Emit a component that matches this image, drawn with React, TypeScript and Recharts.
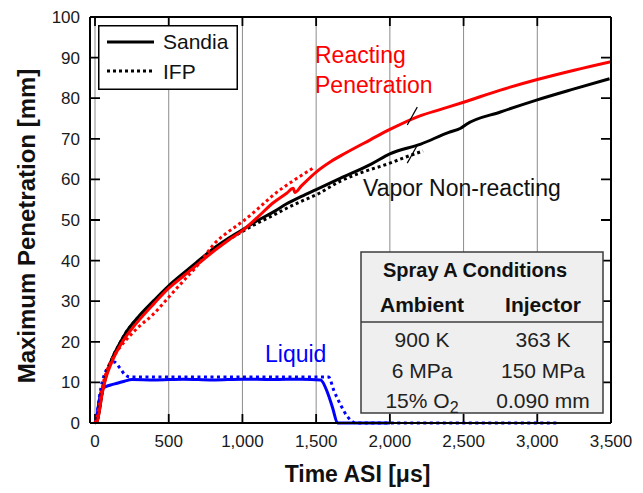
import React from 'react';
import {
  LineChart,
  Line,
  XAxis,
  YAxis,
  CartesianGrid,
  Legend,
  ReferenceLine
} from 'recharts';

// time after start of injection [us], maximum penetration [mm]
const sandiaReacting: [number, number][] = [
  [0, 0], [15, 0.5], [30, 3], [45, 6.5], [60, 9.2], [80, 11.8], [100, 13.8], [130, 16.3],
  [160, 18.4], [200, 20.8], [250, 23.2], [300, 25.4], [400, 29.4], [500, 33.2], [600, 36.2],
  [700, 39.2], [815, 42.6], [900, 44.9], [1000, 47.4], [1100, 50.6], [1211, 54.3], [1300, 56.6],
  [1345, 57.8], [1355, 56.8], [1400, 58.4], [1500, 61.8], [1600, 64.4], [1700, 66.5], [1870, 69.8],
  [2000, 72.3], [2200, 75.6], [2350, 77.3], [2500, 79], [2750, 82], [3000, 84.6], [3250, 86.9],
  [3500, 89]
];
const sandiaVapor: [number, number][] = [
  [0, 0], [15, 0.5], [30, 3.2], [45, 6.8], [60, 9.5], [80, 12.3], [100, 14.4], [130, 17],
  [160, 19.1], [205, 22], [300, 26.4], [400, 30.2], [500, 33.8], [600, 36.9], [700, 39.9],
  [815, 43.3], [900, 45.4], [1000, 47.6], [1100, 49.8], [1211, 52], [1300, 54], [1400, 55.8],
  [1500, 57.5], [1666, 60.3], [1870, 63.7], [2000, 66.3], [2210, 68.7], [2400, 71.6], [2480, 72.6],
  [2520, 73.6], [2750, 76.6], [3000, 79.6], [3250, 82.3], [3490, 84.8]
];
const ifpReacting: [number, number][] = [
  [0, 0], [15, 1.5], [30, 4.5], [45, 8], [60, 10.5], [80, 12.8], [100, 14.6], [130, 16.6],
  [160, 18.2], [200, 20], [250, 22], [300, 23.8], [390, 26.6], [500, 31], [600, 35], [700, 39],
  [815, 44.4], [900, 47], [1000, 49.6], [1100, 52.6], [1211, 56.2], [1350, 59.8], [1480, 62.8]
];
const ifpVapor: [number, number][] = [
  [0, 0], [15, 0.5], [30, 3.2], [45, 6.8], [60, 9.5], [80, 12.3], [100, 14.4], [130, 17],
  [160, 19.1], [205, 22], [300, 26.3], [400, 30], [500, 33.5], [600, 36.6], [700, 39.5],
  [815, 43], [900, 45], [1000, 47.2], [1100, 49.2], [1211, 51.2], [1300, 52.9], [1400, 54.6],
  [1500, 56.2], [1666, 59.6], [1800, 61.6], [2000, 64], [2100, 65.4], [2225, 67]
];
const sandiaLiquid: [number, number][] = [
  [0, 0], [10, 0.5], [20, 3.5], [35, 6.8], [55, 8.6], [100, 9.3], [150, 9.8], [200, 10.3],
  [250, 10.7], [400, 10.6], [600, 10.8], [800, 10.6], [1000, 10.8], [1200, 10.7], [1400, 10.8],
  [1530, 10.6], [1578, 7.4], [1612, 3.7], [1645, 0], [2000, 0]
];
const ifpLiquid: [number, number][] = [
  [0, 0], [15, 2.5], [30, 6.5], [48, 10], [70, 12.5], [90, 14], [130, 15], [170, 13.5],
  [205, 11.8], [240, 11.3], [500, 11.3], [800, 11.3], [1200, 11.3], [1585, 11.3], [1620, 8],
  [1667, 4.4], [1714, 1.5], [1770, 0], [3150, 0]
];

const timeTicks = [0, 500, 1000, 1500, 2000, 2500, 3000, 3500];
const penetrationTicks = [0, 10, 20, 30, 40, 50, 60, 70, 80, 90, 100];
const timeDomain = [-34, 3500];
const penetrationDomain = [0, 100];

// leader lines for the labels, in data units
const reactingLeader: [number, number][] = [[2186, 77.8], [2118, 73.4]];
const vaporLeader: [number, number][] = [[2118, 64], [2186, 68.4]];

const legendItems = [
  { name: 'Sandia', dash: undefined },
  { name: 'IFP', dash: '3 3' }
];

const tableTitle = 'Spray A Conditions';
const tableColumns = ['Ambient', 'Injector'];
const ambientRows: [string, string][] = [['900 K', ''], ['6 MPa', ''], ['15% O', '2']];
const injectorRows: [string, string][] = [['363 K', ''], ['150 MPa', ''], ['0.090 mm', '']];

const FONT = '"Liberation Sans", Arial, sans-serif';
const AXIS = { stroke: '#000', strokeWidth: 2 };
const TICK_TEXT = { fontSize: 17, fill: '#1a1a1a', fontFamily: FONT };

const toPoints = (rows: [number, number][]) => rows.map(([t, v]) => ({ t, v }));
const fmt = (v: number) => v.toLocaleString('en-US');
const seg = (rows: [number, number][]) => rows.map(([x, y]) => ({ x, y }));

// short inward tick marks at both ends of a full-span reference line
const EdgeTicks = (props: any) => {
  const x1 = Number(props.x1);
  const x2 = Number(props.x2);
  const y1 = Number(props.y1);
  const y2 = Number(props.y2);
  if (Math.abs(y1 - y2) < 0.5) {
    const l = Math.min(x1, x2);
    const r = Math.max(x1, x2);
    return <path d={`M${l},${y1}h10M${r - 10},${y1}h10`} stroke='#000' strokeWidth={1.8} fill='none' />;
  }
  const t = Math.min(y1, y2);
  const b = Math.max(y1, y2);
  return <path d={`M${x1},${t}v9M${x1},${b - 9}v9`} stroke='#000' strokeWidth={1.8} fill='none' />;
};

const LegendBox = () => (
  <svg width={140} height={65} style={{ display: 'block' }}>
    <rect x={0.75} y={0.75} width={138.5} height={63.5} fill='#fff' stroke='#000' strokeWidth={1.5} />
    {legendItems.map((item, i) => (
      <g key={item.name}>
        <line x1={9} x2={56} y1={17 + 29 * i} y2={17 + 29 * i} stroke='#000' strokeWidth={3} strokeDasharray={item.dash} />
        <text x={65} y={24 + 30 * i} fontSize={21} fontFamily={FONT} fill='#111'>
          {item.name}
        </text>
      </g>
    ))}
  </svg>
);

const colX = [422, 543];
const rowY = [347, 378, 408];

const Cell = ({ x, y, cell }: { x: number; y: number; cell: [string, string] }) => (
  <text x={x} y={y} textAnchor='middle' fontSize={21} fontFamily={FONT} fill='#222'>
    {cell[0]}
    {cell[1] && (
      <tspan dy={5} fontSize={16}>
        {cell[1]}
      </tspan>
    )}
  </text>
);

export default function App() {
  return (
    <div style={{ position: 'absolute', left: 0, top: 0, width: 643, height: 493, background: '#fff' }}>
      <LineChart width={643} height={493} margin={{ top: 17, right: 32, bottom: 10, left: 30 }}>
        <CartesianGrid horizontal={false} stroke='#8c8c8c' strokeWidth={1} />
        <XAxis
          dataKey='t'
          type='number'
          domain={timeDomain}
          allowDataOverflow
          ticks={timeTicks}
          interval={0}
          tickFormatter={fmt}
          tickSize={0}
          tickMargin={12}
          height={60}
          tick={TICK_TEXT}
          axisLine={AXIS}
          tickLine={false}
          label={({ viewBox }: any) => (
            <text
              x={viewBox.x + viewBox.width / 2 + 7}
              y={viewBox.y + 59}
              textAnchor='middle'
              fontSize={23}
              fontWeight='bold'
              fontFamily={FONT}
              fill='#111'
            >
              Time ASI [μs]
            </text>
          )}
        />
        <XAxis xAxisId='top' orientation='top' mirror type='number' domain={timeDomain} allowDataOverflow
          tick={false} tickLine={false} height={10} axisLine={AXIS} />
        <YAxis
          type='number'
          domain={penetrationDomain}
          ticks={penetrationTicks}
          interval={0}
          tickSize={0}
          tickMargin={10}
          width={60}
          tick={TICK_TEXT}
          axisLine={AXIS}
          tickLine={false}
          label={({ viewBox }: any) => {
            const x = viewBox.x + 5;
            const y = viewBox.y + viewBox.height / 2 + 6;
            return (
              <text
                x={x}
                y={y}
                transform={`rotate(-90 ${x} ${y})`}
                textAnchor='middle'
                fontSize={24}
                fontWeight='bold'
                fontFamily={FONT}
                fill='#111'
              >
                Maximum Penetration [mm]
              </text>
            );
          }}
        />
        <YAxis yAxisId='right' orientation='right' mirror type='number' domain={penetrationDomain}
          tick={false} tickLine={false} width={10} axisLine={AXIS} />
        <Legend
          layout='vertical'
          align='center'
          verticalAlign='middle'
          wrapperStyle={{ left: 98, top: 25, width: 140, height: 65 }}
          content={() => <LegendBox />}
        />
        {timeTicks.map((t) => (
          <ReferenceLine key={'tt' + t} x={t} shape={EdgeTicks} ifOverflow='visible' />
        ))}
        {penetrationTicks.map((v) => (
          <ReferenceLine key={'pt' + v} y={v} shape={EdgeTicks} ifOverflow='visible' />
        ))}
        <Line data={toPoints(ifpLiquid)} dataKey='v' name='IFP liquid' type='monotone' stroke='#0000ff' strokeWidth={3} strokeDasharray='3 3.5' dot={false} activeDot={false} isAnimationActive={false} />
        <Line data={toPoints(sandiaLiquid)} dataKey='v' name='Sandia liquid' type='monotone' stroke='#0000ff' strokeWidth={3} dot={false} activeDot={false} isAnimationActive={false} />
        <Line data={toPoints(ifpVapor)} dataKey='v' name='IFP vapor' type='monotone' stroke='#000' strokeWidth={3} strokeDasharray='3 3' dot={false} activeDot={false} isAnimationActive={false} />
        <Line data={toPoints(sandiaVapor)} dataKey='v' name='Sandia vapor' type='monotone' stroke='#000' strokeWidth={3} dot={false} activeDot={false} isAnimationActive={false} />
        <Line data={toPoints(ifpReacting)} dataKey='v' name='IFP reacting' type='monotone' stroke='#ff0000' strokeWidth={3} strokeDasharray='3 3' dot={false} activeDot={false} isAnimationActive={false} />
        <Line data={toPoints(sandiaReacting)} dataKey='v' name='Sandia reacting' type='monotone' stroke='#ff0000' strokeWidth={3} dot={false} activeDot={false} isAnimationActive={false} />
        <ReferenceLine segment={seg(reactingLeader)} stroke='#000' strokeWidth={1.2} ifOverflow='visible' />
        <ReferenceLine segment={seg(vaporLeader)} stroke='#000' strokeWidth={1.2} ifOverflow='visible' />
      </LineChart>
      <svg
        width={643}
        height={493}
        style={{ position: 'absolute', left: 0, top: 0, pointerEvents: 'none' }}
        fontFamily={FONT}
      >
        <text x={315} y={63} fontSize={23} fill='#ff0000'>Reacting</text>
        <text x={315} y={93} fontSize={23} fill='#ff0000'>Penetration</text>
        <text x={363} y={196} fontSize={23} fill='#111'>Vapor Non-reacting</text>
        <text x={265} y={362} fontSize={23} fill='#0000ff'>Liquid</text>
        <rect x={361} y={252} width={242} height={161} fill='#efefef' stroke='#3c3c3c' strokeWidth={1.5} />
        <line x1={361} x2={603} y1={322} y2={322} stroke='#3c3c3c' strokeWidth={1.5} />
        <text x={475} y={277} textAnchor='middle' fontSize={20} fontWeight='bold' fill='#111'>
          {tableTitle}
        </text>
        {tableColumns.map((c, i) => (
          <text key={c} x={colX[i]} y={312} textAnchor='middle' fontSize={21} fontWeight='bold' fill='#111'>
            {c}
          </text>
        ))}
        {ambientRows.map((cell, i) => (
          <Cell key={'a' + i} x={colX[0]} y={rowY[i]} cell={cell} />
        ))}
        {injectorRows.map((cell, i) => (
          <Cell key={'i' + i} x={colX[1]} y={rowY[i]} cell={cell} />
        ))}
      </svg>
    </div>
  );
}
